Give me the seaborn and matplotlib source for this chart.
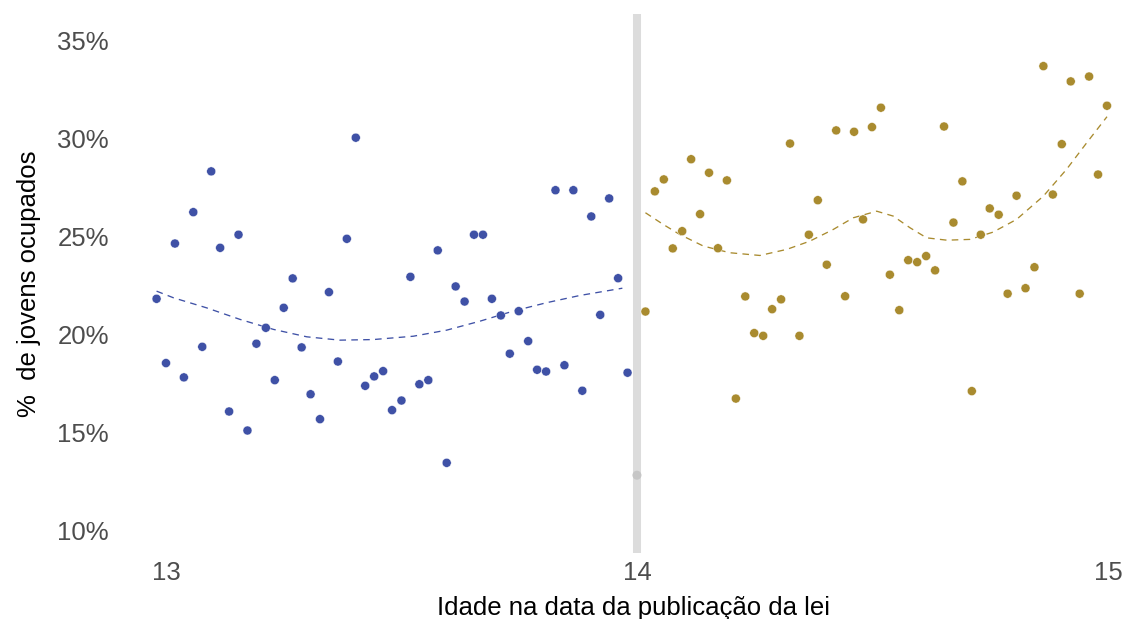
import numpy as np
import pandas as pd
import matplotlib
matplotlib.use("Agg")
import matplotlib.pyplot as plt
import seaborn as sns

# weekly bins, age at the date the law was published
age_before = [12.980, 13.000, 13.019, 13.038, 13.058, 13.077, 13.096, 13.115, 13.134, 13.154,
              13.173, 13.192, 13.212, 13.231, 13.250, 13.269, 13.288, 13.307, 13.327, 13.346,
              13.365, 13.384, 13.403, 13.423, 13.442, 13.461, 13.480, 13.500, 13.519, 13.538,
              13.557, 13.577, 13.596, 13.615, 13.634, 13.654, 13.673, 13.692, 13.711, 13.730,
              13.749, 13.769, 13.788, 13.807, 13.827, 13.846, 13.865, 13.884, 13.903, 13.922,
              13.941, 13.960, 13.980]
share_before = [21.82, 18.54, 24.64, 17.81, 26.24, 19.37, 28.32, 24.42, 16.07, 25.09,
                15.10, 19.53, 20.34, 17.67, 21.36, 22.86, 19.34, 16.95, 15.68, 22.16,
                18.62, 24.88, 30.04, 17.38, 17.86, 18.13, 16.14, 16.63, 22.94, 17.46,
                17.67, 24.29, 13.45, 22.45, 21.68, 25.09, 25.09, 21.82, 20.97, 19.02,
                21.19, 19.66, 18.20, 18.11, 27.36, 18.43, 27.36, 17.13, 26.02, 21.00,
                26.94, 22.87, 18.05]

age_after = [14.018, 14.038, 14.057, 14.076, 14.096, 14.115, 14.134, 14.153, 14.172, 14.191,
             14.210, 14.230, 14.249, 14.268, 14.287, 14.306, 14.325, 14.345, 14.365, 14.384,
             14.403, 14.423, 14.442, 14.461, 14.480, 14.499, 14.518, 14.537, 14.557, 14.576,
             14.595, 14.614, 14.633, 14.652, 14.672, 14.691, 14.711, 14.730, 14.749, 14.768,
             14.787, 14.806, 14.825, 14.844, 14.863, 14.883, 14.902, 14.921, 14.940, 14.960,
             14.979, 14.998]
share_after = [21.17, 27.30, 27.91, 24.39, 25.27, 28.94, 26.14, 28.25, 24.40, 27.86,
               16.73, 21.94, 20.07, 19.93, 21.29, 21.79, 29.74, 19.93, 25.09, 26.85,
               23.56, 30.41, 21.95, 30.34, 25.87, 30.58, 31.57, 23.05, 21.24, 23.79,
               23.69, 24.00, 23.27, 30.61, 25.71, 27.81, 17.11, 25.09, 26.43, 26.11,
               22.08, 27.08, 22.36, 23.43, 33.69, 27.14, 29.71, 32.91, 22.08, 33.16,
               28.16, 31.67]

# cutoff bin (exactly 14)
age_cut = [14.0]
share_cut = [12.82]

# smoothed fits
fit_age_before = [12.980, 13.016, 13.086, 13.157, 13.228, 13.299, 13.369, 13.440, 13.525,
                  13.596, 13.667, 13.737, 13.808, 13.879, 13.969]
fit_before = [22.21, 21.87, 21.36, 20.77, 20.26, 19.88, 19.71, 19.74, 19.91,
              20.22, 20.68, 21.19, 21.62, 21.99, 22.36]
fit_age_after = [14.018, 14.056, 14.091, 14.141, 14.197, 14.261, 14.318, 14.367, 14.417,
                 14.459, 14.509, 14.544, 14.580, 14.615, 14.658, 14.707, 14.756, 14.806,
                 14.863, 14.912, 14.955, 14.998]
fit_after = [26.21, 25.61, 25.10, 24.51, 24.17, 24.03, 24.34, 24.76, 25.36,
             25.95, 26.29, 26.04, 25.44, 24.93, 24.81, 24.85, 25.22, 25.87,
             27.06, 28.42, 29.78, 31.11]

blue = "#3F51A6"
gold = "#A98B2F"

pts = pd.concat([
    pd.DataFrame({"idade": age_before, "pct": share_before, "grupo": "antes"}),
    pd.DataFrame({"idade": age_after, "pct": share_after, "grupo": "depois"}),
])
fits = pd.concat([
    pd.DataFrame({"idade": fit_age_before, "pct": fit_before, "grupo": "antes"}),
    pd.DataFrame({"idade": fit_age_after, "pct": fit_after, "grupo": "depois"}),
])

sns.set_style("white")
plt.rcParams["font.family"] = ["Liberation Sans", "DejaVu Sans"]

fig = plt.figure(figsize=(11.26, 6.19), dpi=100)
ax = fig.add_axes([0.1265, 0.1066, 0.870, 0.8708])

ax.axvline(14, color="#DCDCDC", lw=5.8, zorder=1)

sns.lineplot(data=fits, x="idade", y="pct", hue="grupo", palette=[blue, gold],
             ax=ax, legend=False, lw=0.95, zorder=2)
for ln in ax.get_lines()[1:]:
    ln.set_linestyle((0, (5, 4)))

sns.scatterplot(data=pts, x="idade", y="pct", hue="grupo", palette=[blue, gold],
                ax=ax, legend=False, s=42, edgecolor="white", linewidth=0.3, zorder=3)
sns.scatterplot(x=age_cut, y=share_cut, color="#C6C6C6", s=42, edgecolor="none",
                ax=ax, legend=False, zorder=3)

ax.set_xlim(12.95, 15.03)
ax.set_ylim(8.85, 36.35)
ax.set_xticks([13, 14, 15])
ax.set_xticklabels(["13", "14", "15"])
ax.set_yticks([10, 15, 20, 25, 30, 35])
ax.set_yticklabels([f"{v}%" for v in [10, 15, 20, 25, 30, 35]])
ax.tick_params(axis="both", length=0, labelsize=18.5, colors="#4D4D4D")
ax.tick_params(axis="y", pad=24)
ax.tick_params(axis="x", pad=6)
ax.set_xlabel("Idade na data da publicação da lei", fontsize=18.5, color="black")
ax.set_ylabel("%  de jovens ocupados", fontsize=18.5, color="black")
ax.xaxis.set_label_coords(0.501, -0.080)
ax.yaxis.set_label_coords(-0.104, 0.499)
sns.despine(ax=ax, left=True, bottom=True)
ax.grid(False)

fig.savefig("out.png", dpi=100)
